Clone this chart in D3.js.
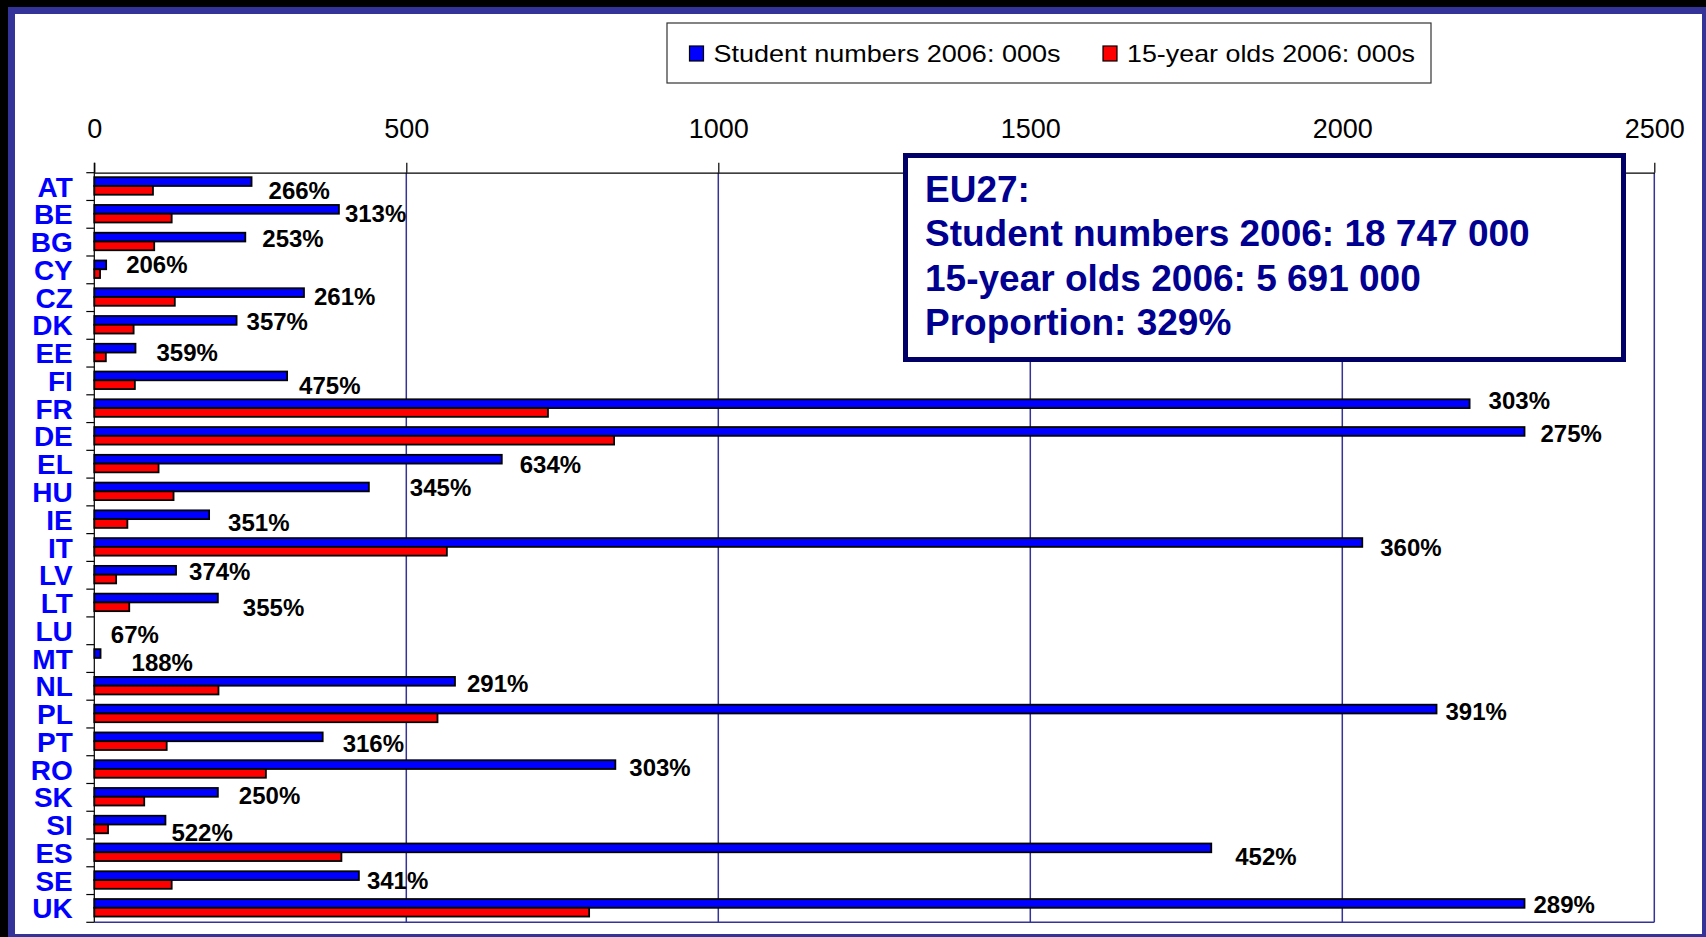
<!DOCTYPE html>
<html>
<head>
<meta charset="utf-8">
<script src="https://cdn.jsdelivr.net/npm/d3@7"></script>
<style>
  body { margin: 0; background: #000; }
  svg { display: block; font-family: "Liberation Sans", Arial, sans-serif; }
</style>
</head>
<body>
<div id="chart"></div>
<script>
// ---- data (thousands) ----
const countries = ["AT", "BE", "BG", "CY", "CZ", "DK", "EE", "FI", "FR", "DE", "EL", "HU", "IE", "IT",
    "LV", "LT", "LU", "MT", "NL", "PL", "PT", "RO", "SK", "SI", "ES", "SE", "UK"];
const students2006 = [252, 392, 242, 19, 336, 228, 66, 309, 2204, 2292, 653, 440, 184, 2032,
    131, 198, 2.7, 10, 578, 2151, 366, 835, 198, 114, 1790, 424, 2292];
const fifteenYearOlds2006 = [94, 124, 96, 9.2, 129, 63, 18.5, 65, 727, 833, 103, 127, 53, 565,
    35, 56, 4, 5.3, 199, 550, 116, 275, 80, 22, 396, 124, 793];
const proportionLabels = ["266%", "313%", "253%", "206%", "261%", "357%", "359%", "475%", "303%", "275%",
    "634%", "345%", "351%", "360%", "374%", "355%", "67%", "188%", "291%", "391%", "316%", "303%",
    "250%", "522%", "452%", "341%", "289%"];
const xTicks = [0, 500, 1000, 1500, 2000, 2500];
const seriesNames = ["Student numbers 2006: 000s", "15-year olds 2006: 000s"];
const seriesColors = ["#0000FF", "#FF0000"];
const eu27Lines = ["EU27:", "Student numbers 2006: 18 747 000", "15-year olds 2006: 5 691 000", "Proportion: 329%"];

// hand-placed data labels in the original: small nudges [dx, dy] from the default spot
const labelNudge = {
    AT: [1, 4], BE: [-10, -1], BG: [1, -4], CY: [4, -5], CZ: [-6, -1], DK: [-6, -4], EE: [5, -1],
    FI: [-4, 4], FR: [3, -8], DE: [0, -3], EL: [2, 0], HU: [25, -5], IE: [3, 3], IT: [2, 0],
    LV: [-3, -4], LT: [9, 4], LU: [-2, 4], MT: [15, 4], NL: [-4, -3], PL: [-7, -3], PT: [4, 2],
    RO: [-2, -2], SK: [5, -2], SI: [-10, 7], ES: [8, 4], SE: [-8, 0], UK: [-7, -4]
};

let width = 1706, height = 937;
let plot = { left: 94.3, right: 1654.3, top: 172.7, bottom: 922.3 };

let svg = d3.select("#chart").append("svg")
    .attr("width", width)
    .attr("height", height);

// frame: black page, blue border, white panel
svg.append("rect").attr("x", 0).attr("y", 0).attr("width", width).attr("height", height).attr("fill", "#000");
svg.append("rect").attr("x", 8).attr("y", 7).attr("width", width).attr("height", height).attr("fill", "#333399");
svg.append("rect").attr("x", 15).attr("y", 14).attr("width", 1687).attr("height", 920).attr("fill", "#fff");

let x = d3.scaleLinear().domain([0, 2500]).range([plot.left, plot.right]);
let y = d3.scaleBand().domain(countries).range([plot.top, plot.bottom]);
let bw = y.bandwidth();
let ySub = d3.scaleBand().domain([0, 1]).range([bw * 0.162, bw * 0.793]);

let rows = countries.map(function (c, i) {
    return { country: c, values: [students2006[i], fifteenYearOlds2006[i]], label: proportionLabels[i] };
});

// gridlines
svg.append("g").selectAll("line")
    .data(xTicks.filter(function (d) { return d > 0; }))
    .enter().append("line")
    .attr("x1", function (d) { return x(d); })
    .attr("x2", function (d) { return x(d); })
    .attr("y1", plot.top)
    .attr("y2", plot.bottom)
    .attr("stroke", "#333399")
    .attr("stroke-width", 1.5);
svg.append("line")
    .attr("x1", plot.left).attr("x2", plot.right)
    .attr("y1", plot.bottom).attr("y2", plot.bottom)
    .attr("stroke", "#333399")
    .attr("stroke-width", 1.5);

// bars
let rowG = svg.append("g").selectAll("g")
    .data(rows)
    .enter().append("g")
    .attr("transform", function (d) { return "translate(0," + y(d.country) + ")"; });

rowG.selectAll("rect")
    .data(function (d) { return d.values.map(function (v, k) { return { v: v, k: k }; }); })
    .enter().filter(function (d) { return x(d.v) - x(0) >= 4; })
    .append("rect")
    .attr("x", x(0))
    .attr("y", function (d) { return ySub(d.k); })
    .attr("width", function (d) { return x(d.v) - x(0); })
    .attr("height", ySub.bandwidth())
    .attr("fill", function (d) { return seriesColors[d.k]; })
    .attr("stroke", "#000")
    .attr("stroke-width", 1.8);

// percentage labels
svg.append("g").selectAll("text")
    .data(rows)
    .enter().append("text")
    .attr("x", function (d) { return x(d3.max(d.values)) + 16 + labelNudge[d.country][0]; })
    .attr("y", function (d) { return y(d.country) + bw / 2 + labelNudge[d.country][1] + 8.6; })
    .text(function (d) { return d.label; })
    .style("font-size", "24px")
    .style("font-weight", "bold")
    .attr("fill", "#000");

// top axis
let xAxis = svg.append("g")
    .attr("transform", "translate(0," + plot.top + ")")
    .call(d3.axisTop(x).tickValues(xTicks).tickFormat(d3.format("d"))
        .tickSize(10).tickSizeOuter(0).tickPadding(25));
xAxis.select(".domain").attr("stroke", "#000").attr("stroke-width", 1.2);
xAxis.selectAll(".tick line").attr("stroke", "#000").attr("stroke-width", 1.2);
xAxis.selectAll(".tick text")
    .style("font-size", "27px")
    .style("font-family", "'Liberation Sans', Arial, sans-serif")
    .attr("fill", "#000");

// left axis: line, boundary ticks, category names
let boundaries = countries.map(function (c) { return y(c); }).concat([plot.bottom]);
let yAxis = svg.append("g");
yAxis.append("line")
    .attr("x1", plot.left).attr("x2", plot.left)
    .attr("y1", plot.top - 10).attr("y2", plot.bottom)
    .attr("stroke", "#000").attr("stroke-width", 1.2);
yAxis.selectAll(".ytick")
    .data(boundaries)
    .enter().append("line")
    .attr("class", "ytick")
    .attr("x1", plot.left - 8).attr("x2", plot.left)
    .attr("y1", function (d) { return d; }).attr("y2", function (d) { return d; })
    .attr("stroke", "#000").attr("stroke-width", 1.2);
yAxis.selectAll(".ylabel")
    .data(countries)
    .enter().append("text")
    .attr("class", "ylabel")
    .attr("x", plot.left - 21.5)
    .attr("y", function (d) { return y(d) + bw / 2 + 10; })
    .attr("text-anchor", "end")
    .text(function (d) { return d; })
    .style("font-size", "28px")
    .style("font-weight", "bold")
    .attr("fill", "#0000FF");

// legend
let legend = svg.append("g");
legend.append("rect")
    .attr("x", 667).attr("y", 23).attr("width", 764).attr("height", 60)
    .attr("fill", "#fff").attr("stroke", "#333").attr("stroke-width", 1.2);
let legendX = [689.5, 1103];
let legendLen = [347, 288];
let item = legend.selectAll(".item")
    .data(seriesNames)
    .enter().append("g")
    .attr("class", "item")
    .attr("transform", function (d, i) { return "translate(" + legendX[i] + ",0)"; });
item.append("rect")
    .attr("x", 0).attr("y", 46).attr("width", 14).attr("height", 15)
    .attr("fill", function (d, i) { return seriesColors[i]; })
    .attr("stroke", "#000").attr("stroke-width", 1.2);
item.append("text")
    .attr("x", 24).attr("y", 62)
    .attr("textLength", function (d, i) { return legendLen[i]; })
    .attr("lengthAdjust", "spacingAndGlyphs")
    .text(function (d) { return d; })
    .style("font-size", "24px")
    .attr("fill", "#000");

// EU27 summary box
let box = svg.append("g");
box.append("rect")
    .attr("x", 905.5).attr("y", 155.5).attr("width", 718).attr("height", 204)
    .attr("fill", "#fff").attr("stroke", "#000066").attr("stroke-width", 5);
box.selectAll("text")
    .data(eu27Lines)
    .enter().append("text")
    .attr("x", 925)
    .attr("y", function (d, i) { return 201.5 + i * 44.5; })
    .text(function (d) { return d; })
    .style("font-size", "37px")
    .style("font-weight", "bold")
    .attr("fill", "#000090");
</script>
</body>
</html>
